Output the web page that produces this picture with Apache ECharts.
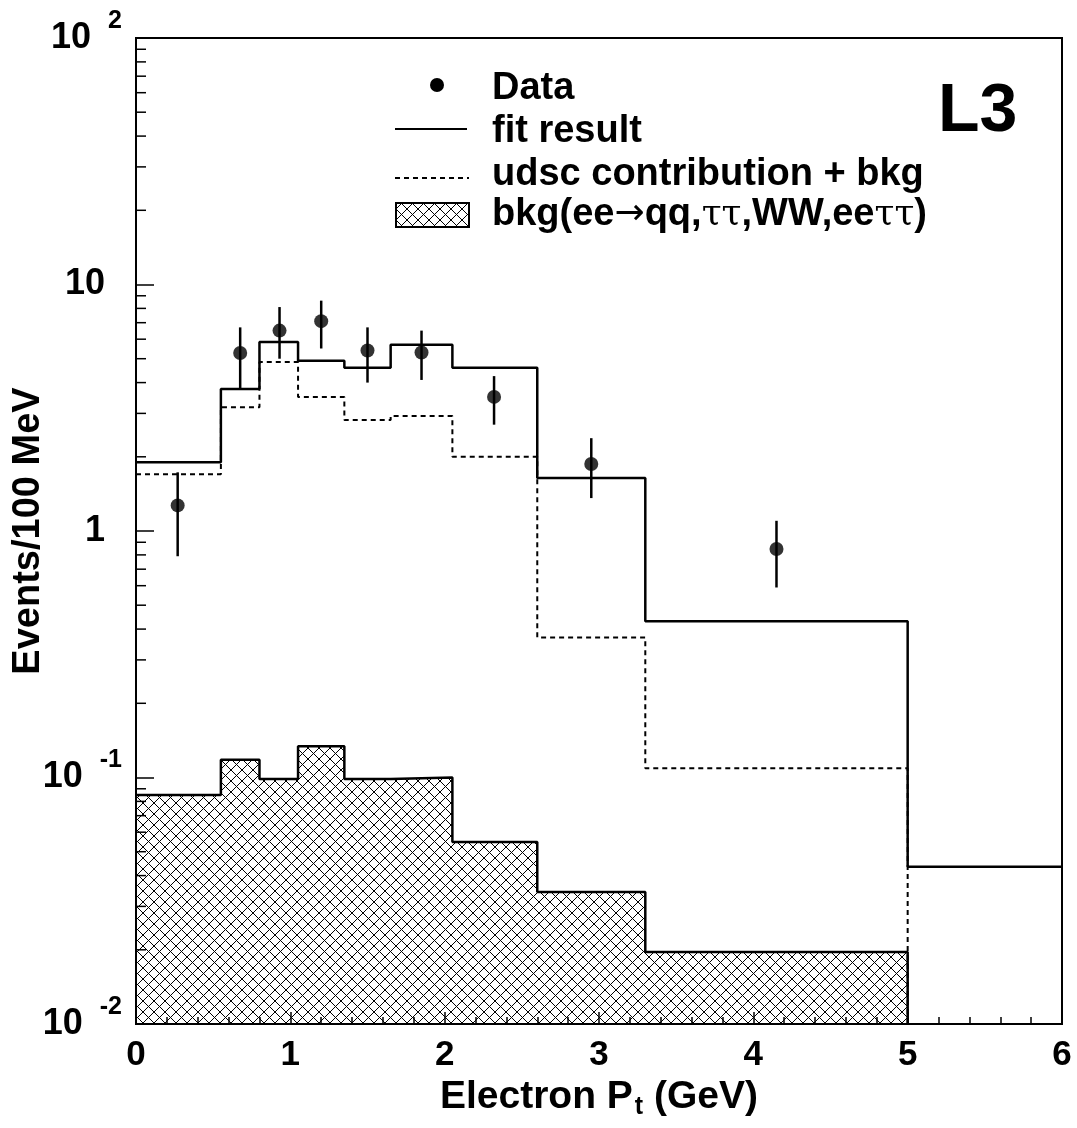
<!DOCTYPE html>
<html><head><meta charset="utf-8">
<script src="https://cdn.jsdelivr.net/npm/echarts@6/dist/echarts.min.js"></script>
<style>html,body{margin:0;padding:0;background:#fff}#c{width:1077px;height:1128px}</style>
</head><body><div id="c"></div>
<script>
// bin edges (GeV) and per-bin contents
const binEdges = [0, 0.55, 0.8, 1.05, 1.35, 1.65, 2.05, 2.6, 3.3, 5.0, 6.0];
const fitResult = [1.9, 3.77, 5.85, 4.9, 4.6, 5.7, 4.6, 1.64, 0.43, 0.0434];
const udscBkg = [1.70, 3.18, 4.85, 3.5, 2.82, 2.93, 2.0, 0.37, 0.109];
const bkgOnly = [0.085, 0.118, 0.0986, 0.134, 0.0986, 0.1, 0.0547, 0.0343, 0.0196];
// data points: x, y, upper, lower
const dataX = [0.27, 0.675, 0.93, 1.2, 1.5, 1.85, 2.32, 2.95, 4.15];
const dataY = [1.27, 5.27, 6.5, 7.1, 5.4, 5.3, 3.5, 1.87, 0.845];
const dataHi = [1.73, 6.7, 8.1, 8.6, 6.7, 6.5, 4.25, 2.38, 1.1];
const dataLo = [0.79, 3.8, 5.0, 5.5, 4.0, 4.1, 2.7, 1.36, 0.59];
const yMin = 0.01, yMax = 100;

function steps(vals, dropAtEnd) {
    let pts = vals.map((v, i) => [binEdges[i], v]);
    let last = binEdges[vals.length];
    pts.push([last, vals[vals.length - 1]]);
    if (dropAtEnd) pts.push([last, yMin]);
    return pts;
}
let minorVals = [];
for (let e = -2; e < 2; e++) for (let m = 2; m <= 9; m++) minorVals.push(m * Math.pow(10, e));

// hatch pattern
const pc = document.createElement('canvas');
pc.width = 11; pc.height = 11;
const g = pc.getContext('2d');
g.fillStyle = '#fff'; g.fillRect(0, 0, 11, 11);
g.strokeStyle = '#000'; g.lineWidth = 1;
g.beginPath();
g.moveTo(0, 0); g.lineTo(11, 11);
g.moveTo(11, 0); g.lineTo(0, 11);
g.stroke();

const FONT = 'Liberation Sans';
const LFS = 38;
const bold = s => ({ fontSize: s, fontWeight: 'bold', fill: '#000', fontFamily: FONT });
const chart = echarts.init(document.getElementById('c'));
chart.setOption({
    animation: false,
    textStyle: { fontFamily: FONT },
    grid: { left: 136, right: 15, top: 38, bottom: 104, outerBoundsMode: 'none', containLabel: false,
            show: true, borderColor: '#000', borderWidth: 2, backgroundColor: 'transparent' },
    xAxis: {
        type: 'value', min: 0, max: 6, interval: 1, z: 10,
        axisLine: { lineStyle: { color: '#000', width: 2 } },
        axisTick: { inside: true, length: 12, lineStyle: { color: '#000', width: 1.5 } },
        minorTick: { show: true, splitNumber: 5, length: 7, lineStyle: { color: '#000', width: 1.5 } },
        splitLine: { show: false },
        axisLabel: { color: '#000', fontSize: 35, fontWeight: 'bold', margin: 14 },
        name: '{a|Electron P}{b|t}{a| (GeV)}', nameLocation: 'middle', nameGap: 36,
        nameTextStyle: { rich: {
            a: { fontSize: 39, fontWeight: 'bold', color: '#000', fontFamily: FONT },
            b: { fontSize: 25, fontWeight: 'bold', color: '#000', fontFamily: FONT, padding: [20, 0, 0, 2] }
        } }
    },
    yAxis: {
        type: 'log', min: yMin, max: yMax, logBase: 10, z: 10,
        axisLine: { lineStyle: { color: '#000', width: 2 } },
        axisTick: { inside: true, length: 18, lineStyle: { color: '#000', width: 1.5 } },
        splitLine: { show: false },
        axisLabel: {
            color: '#000', margin: 14,
            formatter: v => {
                const e = Math.round(Math.log10(v));
                if (e === 0) return '{p|1}';
                if (e === 1) return '{p|10}';
                return '{a|10}{s|' + e + '}';
            },
            rich: {
                a: { fontSize: 36, fontWeight: 'bold', color: '#000', fontFamily: FONT },
                p: { fontSize: 36, fontWeight: 'bold', color: '#000', fontFamily: FONT, padding: [0, 17, 0, 0] },
                s: { fontSize: 25, fontWeight: 'bold', color: '#000', fontFamily: FONT, padding: [0, 0, 34, 17] }
            }
        }
    },
    graphic: [
        { type: 'text', x: 29, y: 531, rotation: Math.PI / 2,
          style: { text: 'Events/100 MeV', font: 'bold 38px ' + FONT, fill: '#000', align: 'center', verticalAlign: 'middle' } },
        { type: 'text', left: 938, top: 78, style: { text: 'L3', font: 'bold 68px ' + FONT, fill: '#000' } },
        { type: 'circle', shape: { cx: 437, cy: 85, r: 7 }, style: { fill: '#000' } },
        { type: 'text', left: 492, top: 70, style: { text: 'Data', font: 'bold ' + LFS + 'px ' + FONT, fill: '#000' } },
        { type: 'line', shape: { x1: 395, y1: 129, x2: 467, y2: 129 }, style: { stroke: '#000', lineWidth: 2 } },
        { type: 'text', left: 492, top: 113, style: { text: 'fit result', font: 'bold ' + LFS + 'px ' + FONT, fill: '#000' } },
        { type: 'line', shape: { x1: 395, y1: 178, x2: 469, y2: 178 }, style: { stroke: '#000', lineWidth: 2, lineDash: [5, 4] } },
        { type: 'text', left: 492, top: 156, style: { text: 'udsc contribution + bkg', font: 'bold ' + LFS + 'px ' + FONT, fill: '#000' } },
        { type: 'rect', shape: { x: 396, y: 203, width: 73, height: 24 }, style: { fill: { image: pc, repeat: 'repeat' }, stroke: '#000', lineWidth: 2 } },
        { type: 'text', left: 492, top: 196, style: {
            text: '{b|bkg(ee}{r|\u2192}{b|qq,}{t|\u03c4\u03c4}{b|,WW,ee}{t|\u03c4\u03c4}{b|)}',
            rich: { b: bold(LFS), r: { fontSize: 36, fill: '#000', fontFamily: 'DejaVu Sans' },
                    t: { fontSize: 36, fill: '#000', fontFamily: 'DejaVu Serif' } } } }
    ],
    series: [
        { type: 'line', step: 'end', data: steps(bkgOnly, true), symbol: 'none',
          lineStyle: { color: '#000', width: 2.5 }, areaStyle: { origin: 'start', color: { image: pc, repeat: 'repeat' }, opacity: 1 } },
        { type: 'line', step: 'end', data: steps(udscBkg, true), symbol: 'none',
          lineStyle: { color: '#000', width: 2, type: [5, 4] } },
        { type: 'line', step: 'end', data: steps(fitResult, false), symbol: 'none',
          lineStyle: { color: '#000', width: 2.5 } },
        { type: 'custom', data: dataX.map((x, i) => [x, dataLo[i], dataHi[i]]),
          renderItem: (p, api) => {
              const a = api.coord([api.value(0), api.value(1)]);
              const b = api.coord([api.value(0), api.value(2)]);
              return { type: 'line', shape: { x1: a[0], y1: a[1], x2: b[0], y2: b[1] }, style: { stroke: '#000', lineWidth: 2.5 } };
          }, z: 5 },
        { type: 'scatter', data: dataX.map((x, i) => [x, dataY[i]]), symbolSize: 14,
          itemStyle: { color: '#000' }, z: 6 },
        { type: 'custom', data: minorVals.map(v => [0, v]), silent: true, z: 7,
          renderItem: (p, api) => {
              const a = api.coord([0, api.value(1)]);
              return { type: 'line', shape: { x1: a[0], y1: a[1], x2: a[0] + 10, y2: a[1] }, style: { stroke: '#000', lineWidth: 1.5 } };
          } }
    ]
});
</script></body></html>
